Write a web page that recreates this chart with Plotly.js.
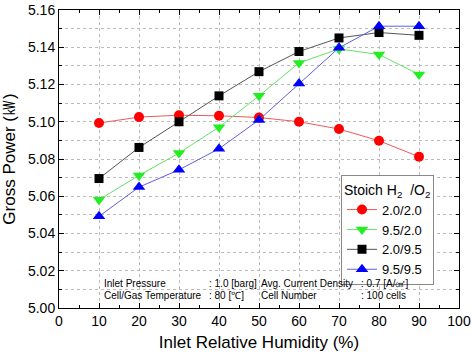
<!DOCTYPE html>
<html>
<head>
<meta charset="utf-8">
<script src="https://cdn.plot.ly/plotly-3.0.1.min.js"></script>
<style>html,body{margin:0;padding:0;background:#fff;}#chart{width:473px;height:354px;}</style>
</head>
<body>
<div id="chart"></div>
<script>
var humidity = [10, 20, 30, 40, 50, 60, 70, 80, 90];
var series_22 = [5.0993, 5.1025, 5.1035, 5.1032, 5.1023, 5.1000, 5.0961, 5.0898, 5.0812];
var series_952 = [5.0581, 5.0712, 5.0832, 5.0971, 5.1139, 5.1316, 5.1391, 5.1361, 5.1254];
var series_295 = [5.0695, 5.0862, 5.1000, 5.1139, 5.1269, 5.1377, 5.1450, 5.1479, 5.1464];
var series_9595 = [5.0492, 5.0649, 5.0742, 5.0855, 5.1010, 5.1205, 5.1397, 5.1513, 5.1513];
var seriesNames = ['2.0/2.0', '9.5/2.0', '2.0/9.5', '9.5/9.5'];
var xTicks = [0, 10, 20, 30, 40, 50, 60, 70, 80, 90, 100];
var yTicks = [5.00, 5.02, 5.04, 5.06, 5.08, 5.10, 5.12, 5.14, 5.16];
var infoLabels = ['Inlet Pressure', ': 1.0 [barg]', 'Avg. Current Density', ': 0.7 [A/㎠]',
                  'Cell/Gas Temperature', ': 80 [℃]', 'Cell Number', ': 100 cells'];

var FONT = 'Arial, "Liberation Sans", sans-serif';
function tr(y, name, sym, mcol, lcol, size) {
  return {x: humidity, y: y, name: name, type: 'scatter', mode: 'lines+markers',
    line: {color: lcol, width: 1},
    marker: {symbol: sym, color: mcol, size: size, line: {width: 0}}};
}
var data = [
  tr(series_22, seriesNames[0], 'circle', '#ff0000', '#ee5a5a', 10),
  tr(series_952, seriesNames[1], 'triangle-down', '#22ee22', '#66e066', 11),
  tr(series_295, seriesNames[2], 'square', '#000000', '#555555', 9),
  tr(series_9595, seriesNames[3], 'triangle-up', '#0000ff', '#6060e0', 11)
];

var annotations = [];
var ax = [0.108, 0.370, 0.500, 0.750];
for (var i = 0; i < infoLabels.length; i++) {
  annotations.push({xref: 'paper', yref: 'paper', x: ax[i % 4], y: i < 4 ? 0.083 : 0.042,
    xanchor: 'left', yanchor: 'middle', showarrow: false, text: infoLabels[i],
    font: {family: FONT, size: 10, color: '#000'}});
}

var layout = {
  width: 473, height: 354,
  margin: {l: 59, r: 14, t: 10, b: 46},
  paper_bgcolor: '#fff', plot_bgcolor: '#fff',
  font: {family: FONT, color: '#000'},
  showlegend: true,
  legend: {
    x: 0.705, y: 0.445, xanchor: 'left', yanchor: 'top',
    bgcolor: '#fff', bordercolor: '#888', borderwidth: 1,
    font: {family: FONT, size: 13, color: '#000'},
    title: {text: 'Stoich H<sub>2</sub>  /O<sub>2</sub>', font: {family: FONT, size: 14, color: '#000'}},
    tracegroupgap: 0, itemwidth: 30
  },
  xaxis: {
    range: [0, 100], tickmode: 'array', tickvals: xTicks, ticktext: xTicks.map(String),
    ticks: 'inside', ticklen: 5, tickcolor: '#000', tickwidth: 1,
    showline: true, linecolor: '#000', linewidth: 1, mirror: 'allticks',
    showgrid: true, gridcolor: '#bbbbbb', griddash: 'dot', gridwidth: 1,
    zeroline: false,
    minor: {dtick: 5, ticks: 'inside', ticklen: 3, tickcolor: '#000', showgrid: false},
    tickfont: {family: FONT, size: 14, color: '#000'},
    title: {text: 'Inlet Relative Humidity (%)', font: {family: FONT, size: 17, color: '#000'}, standoff: 8}
  },
  yaxis: {
    range: [5.0, 5.16], tickmode: 'array', tickvals: yTicks, ticktext: yTicks.map(function(v){return v.toFixed(2);}),
    ticks: 'inside', ticklen: 5, tickcolor: '#000', tickwidth: 1,
    showline: true, linecolor: '#000', linewidth: 1, mirror: 'allticks',
    showgrid: true, gridcolor: '#bbbbbb', griddash: 'dot', gridwidth: 1,
    zeroline: false,
    minor: {dtick: 0.01, tick0: 5.0, ticks: 'inside', ticklen: 3, tickcolor: '#000', showgrid: true, gridcolor: '#bbbbbb', griddash: 'dot', gridwidth: 1},
    tickfont: {family: FONT, size: 14, color: '#000'},
    title: {text: 'Gross Power (㎾)', font: {family: FONT, size: 17, color: '#000'}, standoff: 8}
  },
  annotations: annotations
};
Plotly.newPlot('chart', data, layout, {displayModeBar: false, staticPlot: true});
</script>
</body>
</html>
